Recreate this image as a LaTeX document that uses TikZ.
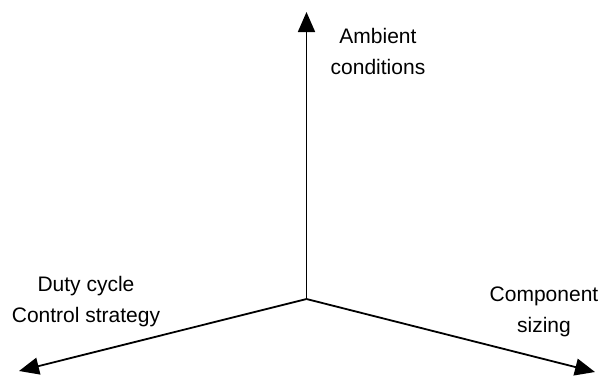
\documentclass[tikz,border=0pt]{standalone}
\usepackage{fontspec}
\setmainfont{Liberation Sans}
\usetikzlibrary{arrows.meta}
\tikzset{
  axis/.style={-{Triangle[length=10pt,width=8.5pt]}, line width=0.9pt},
  axislabel/.style={align=center, font=\fontsize{10.5}{15.5}\selectfont}
}
\begin{document}
\begin{tikzpicture}[x=0.5pt,y=-0.5pt]
    \useasboundingbox (0,0) rectangle (601,377);
    \coordinate (origin) at (306.5,299);
    \coordinate (ambient) at (306.5,12);
    \coordinate (duty) at (19,371);
    \coordinate (sizing) at (595,372);
    \draw[axis] (origin) -- (ambient);
    \draw[axis] (origin) -- (duty);
    \draw[axis] (origin) -- (sizing);
    \node[axislabel] (ambientlabel) at (378,51) {Ambient\\conditions};
    \node[axislabel] (dutylabel) at (86,302) {Duty cycle\\Control strategy};
    \node[axislabel] (sizinglabel) at (544,312) {Component\\sizing};
  \end{tikzpicture}
\end{document}
